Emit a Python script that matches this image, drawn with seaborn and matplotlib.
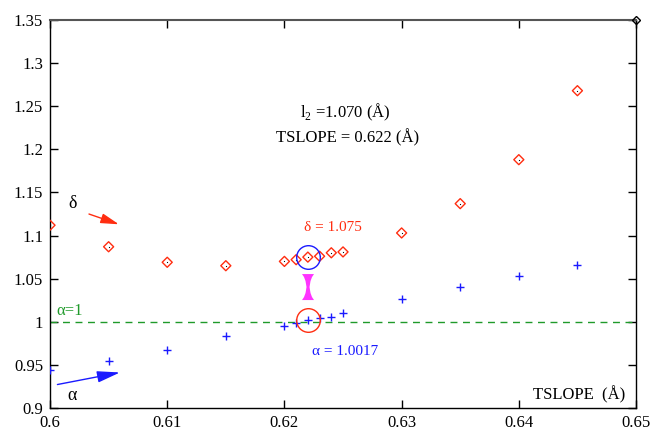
import matplotlib
matplotlib.use('Agg')
import matplotlib.pyplot as plt
import seaborn as sns
import pandas as pd
import numpy as np

# data
tslope = [0.600, 0.605, 0.610, 0.615, 0.620, 0.621, 0.622, 0.623, 0.624, 0.625,
          0.630, 0.635, 0.640, 0.645]
delta = [1.112, 1.087, 1.069, 1.065, 1.070, 1.072, 1.075, 1.076, 1.080, 1.081,
         1.103, 1.137, 1.188, 1.268]
alpha = [0.944, 0.955, 0.967, 0.983, 0.995, 0.998, 1.0017, 1.004, 1.006, 1.010,
         1.026, 1.040, 1.053, 1.066]
best_x = 0.622
best_delta = 1.075
best_alpha = 1.0017
xticks = [0.6, 0.61, 0.62, 0.63, 0.64, 0.65]
yticks = [0.9, 0.95, 1, 1.05, 1.1, 1.15, 1.2, 1.25, 1.3, 1.35]

sns.set_style("ticks")
plt.rcParams['font.family'] = ['Liberation Serif', 'DejaVu Serif']
plt.rcParams['mathtext.fontset'] = 'custom'
plt.rcParams['mathtext.rm'] = 'Liberation Serif'

RED = '#ff2d10'
BLUE = '#1a1aff'
GREEN = '#1f9a2a'

df = pd.DataFrame({'TSLOPE': tslope, 'delta': delta, 'alpha': alpha})

fig = plt.figure(figsize=(6.53, 4.30), dpi=100)
ax = fig.add_axes([0.0766, 0.0512, 0.8974, 0.9023])

sns.scatterplot(data=df, x='TSLOPE', y='delta', marker='D', s=26,
                facecolor='none', edgecolor=RED, linewidth=1.0, ax=ax, zorder=3)
sns.scatterplot(data=df, x='TSLOPE', y='delta', marker='.', s=3,
                color='black', linewidth=0, ax=ax, zorder=4)
sns.scatterplot(data=df, x='TSLOPE', y='alpha', marker='+', s=40,
                color=BLUE, linewidth=1.0, ax=ax, zorder=3)
# stray marker at the corner
ax.plot([0.65], [1.35], marker='D', ms=4, mfc='none', mec='black', clip_on=False, zorder=5)

ax.axhline(1.0, color=GREEN, ls=(0, (5, 4)), lw=1.0, zorder=1)
ax.text(0.6005, 1.003, 'α=1', color=GREEN, fontsize=12, ha='left', va='bottom')

# circles around the chosen point
ax.plot([best_x], [best_delta], marker='o', ms=17, mfc='none', mec=BLUE, mew=1.0, zorder=5)
ax.plot([best_x], [best_alpha], marker='o', ms=17, mfc='none', mec=RED, mew=1.0, zorder=5)

# magenta double arrowhead between them
px = lambda p: 0.6 + (p - 50) / 11720.0
py = lambda p: 1.35 - (p - 20) / 862.0
hx = [302, 314, 312, 310.5, 309.5, 310.5, 312, 314, 302, 304, 305.5, 306.5, 305.5, 304]
hy = [274, 274, 277, 281, 287, 293, 297, 300, 300, 297, 293, 287, 281, 277]
ax.fill([px(v) for v in hx], [py(v) for v in hy], color='#ff33ff', lw=0, zorder=4)

ax.text(0.6241, 1.109, 'δ = 1.075', color=RED, fontsize=11, ha='center', va='center')
ax.text(0.6252, 0.965, 'α = 1.0017', color=BLUE, fontsize=11, ha='center', va='center')

ax.text(0.6252, 1.243, r'l$_2$ =1.070 (Å)', color='black', fontsize=12, ha='center', va='center')
ax.text(0.6254, 1.214, 'TSLOPE = 0.622 (Å)', color='black', fontsize=12, ha='center', va='center')

ax.text(0.6019, 1.137, 'δ', color='black', fontsize=13, ha='center', va='center')
ax.annotate('', xy=(0.6061, 1.112), xytext=(0.6031, 1.126),
            arrowprops=dict(arrowstyle='-|>,head_length=1.1,head_width=0.3', color=RED, lw=1.0))
ax.text(0.6019, 0.915, 'α', color='black', fontsize=13, ha='center', va='center')
ax.annotate('', xy=(0.6062, 0.9418), xytext=(0.6004, 0.9266),
            arrowprops=dict(arrowstyle='-|>,head_length=1.4,head_width=0.35', color=BLUE, lw=1.0))

ax.text(0.6491, 0.915, 'TSLOPE  (Å)', color='black', fontsize=12, ha='right', va='center')

ax.set_xlim(0.6, 0.65)
ax.set_ylim(0.9, 1.35)
ax.set_xticks(xticks)
ax.set_xticklabels([f'{v:g}' for v in xticks])
ax.set_yticks(yticks)
ax.set_yticklabels([f'{v:g}' for v in yticks])
ax.set_xlabel('')
ax.set_ylabel('')
ax.tick_params(direction='in', top=True, right=True, length=6, width=1.0,
               labelsize=12, colors='black', pad=5)
for s in ax.spines.values():
    s.set_visible(True)
    s.set_color('black')
    s.set_linewidth(1.0)
ax.spines['top'].set_color('#555555')
ax.spines['top'].set_linewidth(1.5)

fig.savefig('out.png', dpi=100)
